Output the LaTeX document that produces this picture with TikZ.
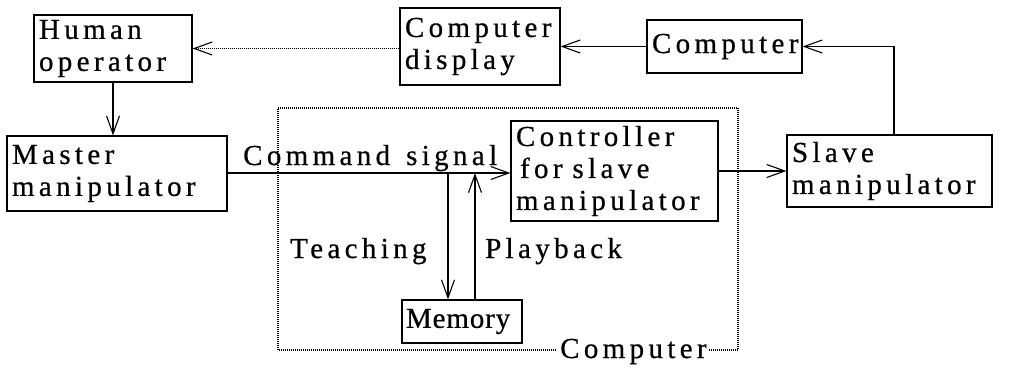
\documentclass[tikz,border=0pt]{standalone}
\usepackage{fontspec}
\setmainfont{Liberation Serif}
\newfontfamily\spacedfont{Liberation Serif}[LetterSpace=15,FakeBold=0.6]
\newfontfamily\tightfont{Liberation Serif}[LetterSpace=3,FakeBold=0.6]
\usetikzlibrary{arrows.meta}
\newcommand{\wgap}{\kern10pt}
\tikzset{
  blk/.style={draw, line width=1.2pt, inner xsep=5pt, inner ysep=0pt, align=left,
              font=\spacedfont\fontsize{29pt}{32pt}\selectfont},
  lbl/.style={inner sep=0pt, font=\spacedfont\fontsize{29pt}{32pt}\selectfont},
  arr/.style={line width=1.1pt, -{Straight Barb[length=18pt,width=13pt,line width=1.1pt]}},
  dots/.style={line width=1.1pt, dash pattern=on 1pt off 1pt}
}
\begin{document}
\begin{tikzpicture}[x=1pt,y=-1pt]
\useasboundingbox (0,0) rectangle (1019,367);

% blocks
\node[blk, minimum width=158pt, minimum height=67pt, text width=148pt] (human) at (113,48.5) {Human\\operator};
\node[blk, minimum width=160pt, minimum height=77pt, text width=150pt] (disp) at (480,46.5) {Computer\\display};
\node[blk, minimum width=155pt, minimum height=53pt, text width=145pt] (comp) at (724.5,46.5) {Computer};
\node[blk, minimum width=220pt, minimum height=75pt, text width=210pt] (master) at (117,173.5) {Master\\manipulator};
\node[blk, minimum width=207pt, minimum height=100pt, text width=197pt] (ctrl) at (614.5,171) {Controller\\\hspace*{4pt}for\wgap slave\\manipulator};
\node[blk, minimum width=205pt, minimum height=72pt, text width=195pt] (slave) at (889.5,171) {Slave\\manipulator};
\node[blk, minimum width=120pt, minimum height=43pt, text width=112pt, inner xsep=4pt,
      font=\tightfont\fontsize{29pt}{32pt}\selectfont] (mem) at (462,321.5) {Memory};

% dotted frame of the computer, labelled at the bottom
\node[lbl, anchor=base west] (cl) at (560,358) {Computer};
\coordinate (fbl) at (278,350);
\coordinate (ftl) at (278,108);
\coordinate (ftr) at (738,108);
\coordinate (fbr) at (738,350);
\draw[dots] ([xshift=-4pt]cl.west |- fbl) -- (fbl) -- (ftl) -- (ftr) -- (fbr) -- ([xshift=2pt]cl.east |- fbr);

% connectors
\draw[arr, dots] (disp.west |- human.east) -- (human.east);
\draw[arr] (comp.west) -- (comp.west -| disp.east);
\draw[arr] ([xshift=4.5pt]slave.north) |- (comp.east);
\draw[arr] (human.south) -- (human.south |- master.north);
\draw[arr] (master.east |- 0,173) -- (ctrl.west |- 0,173);
\draw[arr] (ctrl.east) -- (ctrl.east -| slave.west);

\coordinate (tch) at (448,173);
\coordinate (pbk) at (475,173);
\draw[arr] (tch) -- (tch |- mem.north);
\draw[arr] (pbk |- mem.north) -- (pbk);

% labels
\node[lbl, anchor=base west] (cmd) at (243,165) {Command\kern16pt signal};
\node[lbl, anchor=base west] (teach) at (290,258) {Teaching};
\node[lbl, anchor=base west] (play) at (485,258) {Playback};
\end{tikzpicture}
\end{document}
